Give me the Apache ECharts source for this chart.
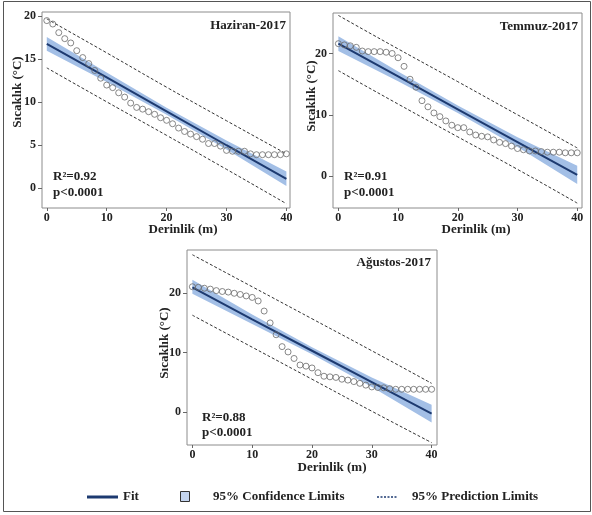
<!DOCTYPE html>
<html>
<head>
<meta charset="utf-8">
<script src="https://cdn.jsdelivr.net/npm/echarts@6/dist/echarts.min.js"></script>
<style>html,body{margin:0;padding:0;background:#fff;}#c{width:592px;height:515px;}</style>
</head>
<body>
<div id="c"></div>
<script>
// ---- data ----
const depth = [0,1,2,3,4,5,6,7,8,9,10,11,12,13,14,15,16,17,18,19,20,21,22,23,24,25,26,27,28,29,30,31,32,33,34,35,36,37,38,39,40];
const xTicks = [0,10,20,30,40];

// Haziran-2017
const junTemp = [19.5,19.1,18.1,17.4,16.9,16.0,15.2,14.5,13.7,12.8,12.0,11.7,11.1,10.6,9.9,9.4,9.2,8.9,8.6,8.2,7.9,7.5,7.0,6.6,6.3,6.0,5.7,5.2,5.2,4.9,4.4,4.3,4.3,4.3,4.0,3.9,3.9,3.9,3.9,3.9,4.0];
// Temmuz-2017
const julTemp = [21.6,21.4,21.25,21.0,20.4,20.3,20.3,20.3,20.2,20.0,19.3,17.9,15.8,14.5,12.3,11.3,10.3,9.7,9.0,8.3,7.9,7.9,7.2,6.7,6.5,6.4,5.9,5.5,5.3,4.9,4.5,4.3,4.1,4.1,4.0,3.9,3.9,3.9,3.8,3.8,3.8];
// Ağustos-2017
const augTemp = [21.1,21.0,20.85,20.7,20.45,20.3,20.2,20.0,19.8,19.55,19.3,18.7,17.0,15.0,13.0,11.0,10.1,9.0,7.9,7.7,7.4,6.6,6.0,5.9,5.8,5.5,5.35,5.1,4.8,4.5,4.2,4.1,4.05,3.9,3.8,3.8,3.8,3.8,3.8,3.8,3.8];

// fit / limits read at these depths
const bandX = [0,10,20,30,40];
const junFit  = [16.8,12.9,8.95,5.0,1.1];
const junCiHi = [17.6,13.45,9.35,5.55,1.95];
const junCiLo = [16.0,12.35,8.55,4.5,0.25];
const junPiHi = [19.7,15.75,11.75,7.85,4.0];
const junPiLo = [14.0,10.05,6.15,2.2,-1.8];

const julFit  = [21.6,16.25,10.9,5.55,0.2];
const julCiHi = [22.8,17.05,11.5,6.35,1.7];
const julCiLo = [20.4,15.45,10.3,4.75,-1.3];
const julPiHi = [26.2,20.75,15.4,10.0,4.6];
const julPiLo = [17.2,11.75,6.4,1.1,-4.4];

const augFit  = [21.0,15.6,10.3,5.0,-0.3];
const augCiHi = [22.3,16.4,10.9,5.8,1.2];
const augCiLo = [19.9,14.8,9.7,4.2,-1.8];
const augPiHi = [26.5,21.1,15.7,10.3,4.8];
const augPiLo = [16.3,10.9,5.5,0.1,-5.2];

const junYTicks = [0,5,10,15,20];
const julYTicks = [0,10,20];
const augYTicks = [0,10,20];

const titles = ['Haziran-2017','Temmuz-2017','Ağustos-2017'];
const r2Labels = ['R²=0.92','R²=0.91','R²=0.88'];
const pLabel = 'p<0.0001';
const xName = 'Derinlik (m)';
const yName = 'Sıcaklık (°C)';
const legendLabels = ['Fit','95% Confidence Limits','95% Prediction Limits'];

// ---- styling ----
const FONT = '"Liberation Serif", "Times New Roman", serif';
const FIT_COLOR = '#1d3a70';
const CI_COLOR = '#a3bfe6';
const PT_COLOR = '#6a6a6a';

const panels = [
  {temp: junTemp, fit: junFit, ciHi: junCiHi, ciLo: junCiLo, piHi: junPiHi, piLo: junPiLo, yTicks: junYTicks,
   grid: {left: 42, top: 12, width: 248, height: 196}, xr: [-0.8, 40.6], yr: [-2.3, 20.5]},
  {temp: julTemp, fit: julFit, ciHi: julCiHi, ciLo: julCiLo, piHi: julPiHi, piLo: julPiLo, yTicks: julYTicks,
   grid: {left: 333, top: 13, width: 249, height: 195}, xr: [-0.9, 40.8], yr: [-5.2, 26.6]},
  {temp: augTemp, fit: augFit, ciHi: augCiHi, ciLo: augCiLo, piHi: augPiHi, piLo: augPiLo, yTicks: augYTicks,
   grid: {left: 187, top: 250, width: 250, height: 195}, xr: [-0.9, 40.9], yr: [-5.6, 27.3]}
];

const grids = [], xAxes = [], yAxes = [], series = [];
const zip = (xs, ys) => xs.map((x, i) => [x, ys[i]]);

panels.forEach((p, k) => {
  grids.push(Object.assign({show: true, borderColor: '#8c8c8c', borderWidth: 1, backgroundColor: '#fff'}, p.grid));
  const labelStyle = {fontFamily: FONT, fontWeight: 'bold', fontSize: 12, color: '#222'};
  xAxes.push({
    gridIndex: k, type: 'value', min: p.xr[0], max: p.xr[1], position: 'bottom',
    axisLine: {show: false, onZero: false}, splitLine: {show: false},
    axisTick: {show: true, customValues: xTicks, length: 3, lineStyle: {color: '#666'}},
    axisLabel: Object.assign({customValues: xTicks, margin: 4}, labelStyle)
  });
  yAxes.push({
    gridIndex: k, type: 'value', min: p.yr[0], max: p.yr[1], position: 'left',
    axisLine: {show: false, onZero: false}, splitLine: {show: false},
    axisTick: {show: true, customValues: p.yTicks, length: 4, lineStyle: {color: '#666'}},
    axisLabel: Object.assign({customValues: p.yTicks, margin: 6}, labelStyle)
  });
  // CI band as polygon through the axes' scales
  const upper = zip(bandX, p.ciHi);
  const lower = zip(bandX, p.ciLo).reverse();
  series.push({
    type: 'custom', xAxisIndex: k, yAxisIndex: k, silent: true, z: 1,
    data: [[bandX[0], p.ciLo[0]]],
    renderItem: (params, api) => ({
      type: 'polygon',
      shape: {points: upper.concat(lower).map(pt => api.coord(pt))},
      style: {fill: CI_COLOR}
    })
  });
  // fit line
  series.push({
    type: 'line', xAxisIndex: k, yAxisIndex: k, symbol: 'none',
    data: zip(bandX, p.fit), lineStyle: {color: FIT_COLOR, width: 2}, z: 3
  });
  // prediction limits
  [p.piHi, p.piLo].forEach(arr => series.push({
    type: 'line', xAxisIndex: k, yAxisIndex: k, symbol: 'none', smooth: true,
    data: zip(bandX, arr), lineStyle: {color: '#333', width: 1, type: [3, 2]}, z: 3
  }));
  // observations
  series.push({
    type: 'scatter', xAxisIndex: k, yAxisIndex: k, symbol: 'circle', symbolSize: 6,
    data: zip(depth, p.temp),
    itemStyle: {color: 'rgba(255,255,255,0)', borderColor: PT_COLOR, borderWidth: 1}, z: 4
  });
});

const txt = (x, y, text, extra) => ({
  type: 'text', x: x, y: y, z: 100,
  style: Object.assign({text: text, font: 'bold 13px ' + FONT, fill: '#222', textVerticalAlign: 'middle'}, extra || {})
});

const graphic = [
  {type: 'rect', shape: {x: 3.5, y: 1.5, width: 587, height: 510}, style: {fill: 'none', stroke: '#555', lineWidth: 1}, z: 0},
  // panel titles
  txt(286, 26, titles[0], {textAlign: 'right'}),
  txt(578, 27, titles[1], {textAlign: 'right'}),
  txt(431, 263, titles[2], {textAlign: 'right'}),
  // stats
  txt(53, 177, r2Labels[0]), txt(53, 193, pLabel),
  txt(344, 177, r2Labels[1]), txt(344, 193, pLabel),
  txt(202, 418, r2Labels[2]), txt(202, 433, pLabel),
  // x axis names
  txt(183, 230, xName, {textAlign: 'center'}),
  txt(476, 230, xName, {textAlign: 'center'}),
  txt(332, 468, xName, {textAlign: 'center'}),
  // y axis names (rotated)
  Object.assign(txt(0, 0, yName, {textAlign: 'center'}), {x: 18, y: 92, rotation: Math.PI / 2}),
  Object.assign(txt(0, 0, yName, {textAlign: 'center'}), {x: 312, y: 96, rotation: Math.PI / 2}),
  Object.assign(txt(0, 0, yName, {textAlign: 'center'}), {x: 165, y: 343, rotation: Math.PI / 2}),
  // legend
  {type: 'line', shape: {x1: 87, y1: 497, x2: 118, y2: 497}, style: {stroke: FIT_COLOR, lineWidth: 3}, z: 100},
  txt(123, 497, legendLabels[0]),
  {type: 'rect', shape: {x: 180.5, y: 491.5, width: 9, height: 10}, style: {fill: '#c4d5ef', stroke: '#333', lineWidth: 1}, z: 100},
  txt(213, 497, legendLabels[1]),
  {type: 'line', shape: {x1: 377, y1: 497, x2: 398, y2: 497}, style: {stroke: '#1d3a70', lineWidth: 1.5, lineDash: [2, 1.5]}, z: 100},
  txt(412, 497, legendLabels[2])
];

const chart = echarts.init(document.getElementById('c'), null, {renderer: 'canvas'});
chart.setOption({
  animation: false,
  backgroundColor: '#fff',
  grid: grids, xAxis: xAxes, yAxis: yAxes, series: series, graphic: graphic
});
</script>
</body>
</html>
